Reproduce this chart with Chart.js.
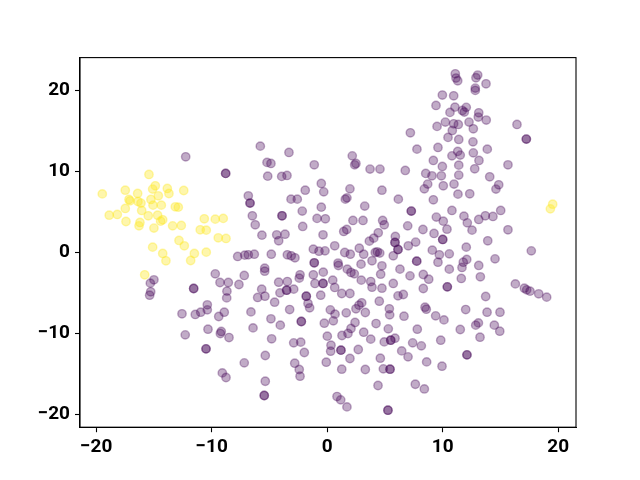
<!DOCTYPE html>
<html>
<head>
<meta charset="utf-8">
<script src="https://cdn.jsdelivr.net/npm/chart.js@4/dist/chart.umd.min.js"></script>
<style>
  body { margin: 0; background: #fff; }
  canvas { display: block; }
</style>
</head>
<body>
<canvas id="tsne-chart" width="640" height="480"></canvas>
<script>
const PURPLE = 'rgba(68, 1, 84, 0.33)'
const YELLOW = 'rgba(253, 231, 37, 0.38)'

const X_MIN = -21.4
const X_MAX = 21.54
const Y_MIN = -21.63
const Y_MAX = 24.04

const xTickValues = [-20, -10, 0, 10, 20]
const yTickValues = [-20, -10, 0, 10, 20]

// class 0 (dark purple)
const purplePoints = [
    [-12.25, 11.78], [-8.79, 9.73], [-8.79, 9.73],
    [-7.75, -0.53], [-7.14, -0.37], [-15.0, -3.42], [-15.31, -3.83], [-15.28, -4.9], [-15.37, -5.32],
    [-11.56, -4.49], [-11.56, -4.49], [-9.69, -2.68], [-9.28, -3.75], [-8.56, -3.75], [-7.18, -2.88],
    [-7.64, -4.0], [-8.68, -4.82], [-8.7, -5.65], [-12.57, -7.62], [-11.42, -7.7], [-10.95, -7.42],
    [-10.38, -6.51], [-10.38, -7.13], [-8.91, -7.42], [-9.39, -7.95], [-12.29, -10.22], [-10.32, -9.52],
    [-9.25, -10.05], [-9.17, -9.8], [-8.5, -10.55], [-10.49, -11.95], [-10.49, -11.95], [-7.18, -13.68],
    [-9.08, -14.92], [-8.76, -15.49],
    [7.2, 14.75], [-5.79, 13.1], [-3.31, 12.32], [-5.21, 11.09], [-4.87, 10.96], [-5.15, 9.39],
    [-3.94, 9.36], [-3.48, 9.48], [-1.12, 10.79], [2.17, 11.9], [2.38, 10.79], [2.49, 10.96],
    [3.71, 10.26], [4.57, 10.26], [6.76, 10.1], [-0.51, 8.49], [-0.3, 7.45], [-1.9, 7.66],
    [1.97, 7.82], [1.57, 6.55], [1.71, 6.71], [3.25, 5.69], [4.74, 7.66], [6.16, 6.55],
    [7.28, 5.07], [7.28, 5.07], [-6.83, 6.96], [-6.68, 6.06], [-6.68, 6.06], [-6.48, 4.49],
    [-6.23, 3.38], [-5.65, 2.1], [-3.91, 4.49], [-3.91, 4.49], [-3.13, 6.55], [-2.59, 6.55],
    [-2.16, 5.07], [-2.12, 3.18], [-0.51, 5.56], [-0.88, 4.17], [-0.16, 4.12], [-0.36, 2.14],
    [-4.37, 2.14], [-3.65, 2.22], [-4.2, 1.4], [1.43, 2.56], [1.69, 2.8], [2.23, 3.92],
    [3.1, 3.92], [4.8, 3.92], [4.94, 3.38], [4.42, 2.39], [4.03, 1.73], [3.65, 1.36],
    [5.9, 1.94], [5.87, 1.2], [5.87, 1.2], [6.97, 3.25],
    [-1.2, 0.37], [-0.71, 0.12], [-0.19, 0.16], [0.65, 0.78], [1.52, -0.04], [2.0, -0.25],
    [2.78, 0.49], [3.16, -0.25], [4.16, -0.04], [4.34, 0.04], [4.55, -0.12], [5.72, -0.45],
    [6.13, 0.33], [6.13, 0.33], [7.02, 0.78], [-6.83, -0.33], [-6.31, -0.25], [-4.84, -0.25],
    [-3.45, -0.33], [-3.11, -0.45], [-2.79, -0.7], [-1.12, -1.32], [-1.12, -1.32], [-0.34, -2.47],
    [-1.2, -2.8], [0.94, -1.35], [0.97, -1.65], [1.74, -2.1], [2.06, -2.51], [2.35, -2.68],
    [2.93, -1.48], [3.88, -1.07], [4.74, -1.69], [4.63, -2.72], [6.3, -2.1], [7.17, -2.93],
    [-5.41, -1.98], [-5.41, -2.35], [-4.2, -3.71], [-3.45, -3.63], [-2.35, -2.8], [-2.42, -3.21],
    [-4.09, -5.03], [-3.51, -4.7], [-3.51, -4.7], [-2.9, -4.57], [-5.67, -4.57], [-6.02, -5.6],
    [-5.39, -5.44], [-4.55, -6.18], [-1.06, -3.87], [-0.36, -3.87], [-0.36, -3.87], [0.48, -3.46],
    [0.65, -4.36], [1.26, -5.11], [1.97, -5.11], [-0.56, -5.32], [2.95, -3.46], [3.77, -3.63],
    [3.88, -4.33], [4.74, -4.45], [5.72, -3.87], [6.13, -5.4], [6.59, -5.23], [-1.81, -5.44],
    [-1.81, -5.44], [-1.66, -6.34], [-1.52, -6.88], [-3.25, -7.09], [-6.6, -7.38], [-4.87, -8.24],
    [-4.06, -9.02], [-6.42, -9.36], [-2.24, -8.57], [-2.24, -8.57], [-4.81, -10.71], [-5.36, -12.77],
    [-2.9, -11.21], [-2.29, -11.12], [-1.98, -12.4], [-2.81, -13.72], [-2.42, -14.5], [-2.35, -15.33],
    [-5.36, -15.95], [-5.45, -17.71], [-5.45, -17.71], [0.27, -7.13], [0.68, -7.66], [0.53, -8.49],
    [-0.25, -8.78], [0.01, -10.38], [0.33, -11.5], [0.3, -12.24], [-0.08, -13.6], [1.19, -12.11],
    [1.19, -12.11], [1.28, -10.3], [1.65, -7.5], [2.49, -7.0], [2.75, -6.55], [2.99, -6.26],
    [3.3, -7.46], [2.41, -8.69], [2.06, -9.43], [1.8, -10.05], [3.16, -9.89], [3.77, -10.75],
    [2.69, -12.03], [1.97, -13.14], [1.26, -14.46], [3.3, -14.5], [4.51, -6.06], [5.38, -7.0],
    [5.41, -7.75], [6.65, -7.91], [4.23, -8.82], [5.29, -9.48], [4.94, -11.09], [5.5, -10.88],
    [5.5, -10.88], [5.87, -10.63], [6.45, -12.2], [7.0, -12.94], [4.6, -13.1], [4.86, -14.42],
    [5.44, -14.46], [5.44, -14.46], [4.4, -16.48], [0.85, -17.84], [1.17, -18.25], [1.71, -19.12],
    [5.26, -19.53], [5.26, -19.53],
    [11.09, 22.04], [11.15, 21.51], [11.3, 21.18], [13.03, 21.88], [12.88, 21.55], [13.75, 20.8],
    [12.82, 20.27], [12.82, 19.99], [9.97, 19.41], [10.95, 19.32], [9.42, 18.13], [11.06, 17.92],
    [10.63, 17.27], [11.7, 17.51], [12.04, 17.89], [11.87, 17.31], [13.12, 17.22], [13.08, 16.69],
    [13.77, 16.32], [12.28, 16.07], [10.23, 16.07], [9.51, 15.54], [10.95, 15.86], [11.35, 15.78],
    [10.83, 15.04], [12.65, 15.24], [10.46, 14.18], [11.39, 13.93], [12.62, 13.63], [16.43, 15.78],
    [17.24, 13.97], [17.24, 13.97], [7.77, 12.73], [9.59, 12.94], [10.8, 11.9], [11.3, 12.45],
    [11.52, 11.99], [12.65, 12.27], [13.86, 12.73], [13.14, 11.33], [12.77, 10.3], [11.39, 10.75],
    [9.19, 11.33], [9.97, 10.59], [15.65, 10.79], [8.53, 9.73], [9.07, 9.43], [9.88, 9.43],
    [11.39, 9.52], [8.7, 8.41], [8.41, 7.82], [10.05, 8.2], [10.98, 8.41], [11.32, 7.17],
    [12.34, 7.21], [14.07, 9.31], [14.85, 8.32], [14.61, 7.79], [9.19, 6.47], [10.8, 5.15],
    [9.45, 4.33], [10.05, 3.83], [11.84, 4.45], [12.13, 3.62], [13.12, 4.04], [13.69, 4.49],
    [14.35, 4.41], [15.02, 5.15], [15.65, 2.76], [8.29, 2.8], [9.25, 2.31], [10.37, 2.84],
    [12.54, 2.72], [10.0, 1.57], [10.0, 1.57], [7.66, 1.24], [13.9, 1.4],
    [12.04, 0.62], [9.1, 0.25], [9.71, -0.33], [10.57, -0.21], [9.59, -1.24], [7.75, -1.11],
    [7.75, -1.11], [8.32, -2.76], [8.79, -3.34], [8.32, -4.49], [10.57, -2.1], [11.78, -1.24],
    [12.08, -0.9], [11.67, -1.89], [13.12, -1.64], [14.53, -0.83], [17.67, 0.16], [11.61, -3.25],
    [13.26, -3.05], [10.4, -4.29], [10.4, -4.29], [13.72, -5.48], [16.29, -3.92], [17.07, -4.45],
    [17.27, -4.66], [17.56, -4.82], [18.31, -5.15], [19.0, -5.56], [8.47, -6.8], [8.58, -7.05],
    [9.39, -7.87], [10.11, -8.37], [11.99, -7.09], [13.84, -7.42], [14.96, -7.42], [12.86, -9.02],
    [13.09, -8.74], [11.52, -9.56], [14.47, -9.02], [14.94, -9.77], [13.23, -10.51], [7.8, -9.52],
    [9.83, -10.88], [7.4, -11.21], [8.15, -11.58], [12.1, -12.69], [12.1, -12.69], [8.61, -13.56],
    [9.94, -14.09], [7.63, -16.32], [8.41, -16.9]
]

// class 1 (yellow)
const yellowPoints = [
    [-15.43, 9.6], [-19.47, 7.2], [-17.48, 7.66], [-16.41, 7.25], [-14.88, 8.2], [-15.11, 7.79],
    [-13.84, 7.87], [-13.7, 7.25], [-12.42, 7.62], [-14.62, 6.96], [-17.16, 6.51], [-17.07, 6.34],
    [-15.26, 6.51], [-16.12, 6.06], [-16.38, 6.26], [-15.08, 5.81], [-14.36, 5.81], [-13.15, 5.6],
    [-12.89, 5.56], [-17.48, 5.4], [-16.06, 5.15], [-18.87, 4.57], [-18.17, 4.66], [-15.49, 4.49],
    [-14.68, 4.57], [-14.42, 3.83], [-14.24, 4.0], [-17.42, 3.79], [-16.21, 3.67], [-16.29, 3.25],
    [-15.0, 2.97], [-13.38, 3.25], [-12.63, 3.3], [-10.64, 4.12], [-9.69, 4.08], [-9.0, 4.17],
    [-10.99, 2.76], [-10.47, 2.72], [-9.43, 1.77], [-8.76, 1.69], [-12.83, 1.45], [-15.11, 0.62],
    [-12.37, 0.78], [-14.24, -0.16], [-13.96, -1.07], [-11.5, -0.16], [-11.82, -1.03], [-10.47, 0.0],
    [-15.8, -2.8], [19.52, 5.93], [19.32, 5.35]
]

const TICK_FONT = { family: 'Roboto', size: 19, weight: 'bold' }

function minusLabel(value) {
    return String(value).replace('-', '\u2212')
}

// matplotlib-like box round the axes
const frame = {
    id: 'frame',
    afterDraw(chart) {
        const a = chart.chartArea
        const ctx = chart.ctx
        ctx.save()
        ctx.strokeStyle = '#000'
        ctx.lineWidth = 1.1
        ctx.strokeRect(a.left, a.top, a.right - a.left, a.bottom - a.top)
        ctx.restore()
    }
}

const config = {
    type: 'scatter',
    data: {
        datasets: [
            {
                data: purplePoints.map(p => ({ x: p[0], y: p[1] })),
                pointBackgroundColor: PURPLE,
                pointBorderColor: PURPLE,
                pointBorderWidth: 1.4,
                pointRadius: 4.2,
            },
            {
                data: yellowPoints.map(p => ({ x: p[0], y: p[1] })),
                pointBackgroundColor: YELLOW,
                pointBorderColor: YELLOW,
                pointBorderWidth: 1.4,
                pointRadius: 4.2,
            }
        ]
    },
    options: {
        responsive: false,
        animation: false,
        layout: { padding: { top: 57.6, right: 64, left: 0, bottom: 0 } },
        plugins: {
            legend: { display: false },
            tooltip: { enabled: false },
        },
        scales: {
            x: {
                type: 'linear',
                min: X_MIN,
                max: X_MAX,
                afterBuildTicks: s => { s.ticks = xTickValues.map(v => ({ value: v })) },
                afterFit: s => { s.height = 52.8 },
                grid: { drawOnChartArea: false, tickLength: 5, color: '#000', tickWidth: 1.1 },
                border: { color: '#000', width: 1.1 },
                ticks: { font: TICK_FONT, color: '#000', padding: 4, maxRotation: 0, callback: minusLabel },
            },
            y: {
                type: 'linear',
                min: Y_MIN,
                max: Y_MAX,
                afterBuildTicks: s => { s.ticks = yTickValues.map(v => ({ value: v })) },
                afterFit: s => { s.width = 80 },
                grid: { drawOnChartArea: false, tickLength: 5, color: '#000', tickWidth: 1.1 },
                border: { color: '#000', width: 1.1 },
                ticks: { font: TICK_FONT, color: '#000', padding: 5, callback: minusLabel },
            }
        }
    },
    plugins: [frame]
}

new Chart(document.getElementById('tsne-chart').getContext('2d'), config)
</script>
</body>
</html>
